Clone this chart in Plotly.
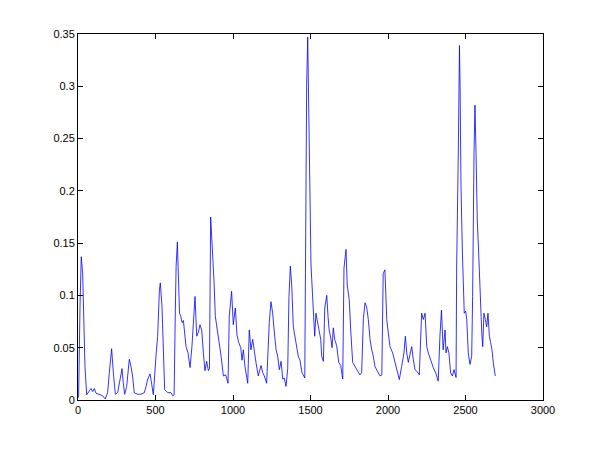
import plotly.graph_objects as go

sample_index = [0, 4, 13, 21, 30, 37, 45, 56, 69, 84, 95, 105, 116, 137, 159, 176, 191, 202, 217, 228,
                241, 256, 267, 275, 284, 292, 301, 314, 322, 331, 342, 352, 363, 385, 405, 428, 439, 450,
                465, 473, 486, 503, 514, 525, 531, 542, 550, 559, 579, 600, 611, 620, 628, 633, 641, 650,
                655, 663, 671, 680, 690, 697, 710, 723, 735, 743, 755, 766, 777, 787, 798, 809, 819, 830,
                841, 848, 856, 863, 869, 877, 886, 899, 911, 923, 938, 953, 968, 976, 991, 1002, 1015,
                1026, 1037, 1050, 1058, 1067, 1077, 1095, 1105, 1116, 1127, 1137, 1148, 1163, 1181, 1192,
                1202, 1217, 1234, 1245, 1256, 1269, 1278, 1288, 1299, 1310, 1321, 1331, 1342, 1353, 1361,
                1370, 1379, 1389, 1395, 1402, 1411, 1421, 1432, 1445, 1453, 1463, 1469, 1475, 1482, 1488,
                1497, 1503, 1508, 1518, 1527, 1535, 1544, 1557, 1566, 1572, 1583, 1592, 1605, 1613, 1621,
                1630, 1639, 1647, 1656, 1669, 1682, 1695, 1708, 1716, 1729, 1737, 1750, 1759, 1772, 1787,
                1797, 1808, 1819, 1830, 1841, 1852, 1862, 1873, 1884, 1895, 1905, 1916, 1927, 1937, 1948,
                1960, 1969, 1980, 1992, 2002, 2013, 2030, 2045, 2060, 2073, 2088, 2103, 2112, 2121, 2131,
                2142, 2153, 2163, 2174, 2189, 2202, 2217, 2228, 2239, 2250, 2260, 2271, 2292, 2310, 2324,
                2335, 2345, 2356, 2368, 2374, 2383, 2393, 2404, 2415, 2426, 2439, 2443, 2454, 2461, 2465,
                2471, 2480, 2486, 2492, 2501, 2508, 2518, 2529, 2540, 2546, 2555, 2561, 2568, 2576, 2585,
                2594, 2605, 2611, 2619, 2628, 2637, 2645, 2654, 2662, 2671, 2679, 2692]

signal = [0.002, 0.004, 0.09, 0.137, 0.121, 0.075, 0.032, 0.005, 0.008, 0.011, 0.008, 0.011, 0.0065,
          0.0055, 0.004, 0.001, 0.007, 0.026, 0.049, 0.026, 0.0055, 0.007, 0.0165, 0.023, 0.030, 0.0165,
          0.0055, 0.013, 0.026, 0.039, 0.032, 0.023, 0.007, 0.0055, 0.0055, 0.007, 0.013, 0.020, 0.025,
          0.018, 0.005, 0.042, 0.061, 0.105, 0.112, 0.089, 0.048, 0.010, 0.007, 0.007, 0.004, 0.005,
          0.086, 0.128, 0.151, 0.099, 0.083, 0.080, 0.074, 0.076, 0.057, 0.051, 0.045, 0.031, 0.051,
          0.075, 0.099, 0.061, 0.065, 0.072, 0.067, 0.045, 0.028, 0.037, 0.028, 0.030, 0.175, 0.155,
          0.130, 0.115, 0.080, 0.067, 0.055, 0.042, 0.023, 0.024, 0.016, 0.080, 0.104, 0.072, 0.088,
          0.062, 0.055, 0.050, 0.038, 0.048, 0.032, 0.016, 0.067, 0.048, 0.058, 0.045, 0.036, 0.023,
          0.033, 0.026, 0.023, 0.016, 0.074, 0.094, 0.083, 0.061, 0.048, 0.042, 0.029, 0.037, 0.020,
          0.021, 0.013, 0.030, 0.099, 0.128, 0.109, 0.070, 0.064, 0.058, 0.052, 0.042, 0.038, 0.026,
          0.024, 0.021, 0.156, 0.300, 0.347, 0.269, 0.160, 0.130, 0.115, 0.082, 0.061, 0.083, 0.076,
          0.066, 0.058, 0.042, 0.037, 0.088, 0.100, 0.080, 0.066, 0.060, 0.050, 0.069, 0.058, 0.052,
          0.036, 0.033, 0.020, 0.126, 0.144, 0.110, 0.096, 0.068, 0.036, 0.032, 0.029, 0.026, 0.024,
          0.026, 0.078, 0.093, 0.089, 0.077, 0.058, 0.048, 0.042, 0.032, 0.029, 0.026, 0.023, 0.024,
          0.121, 0.1245, 0.077, 0.064, 0.051, 0.045, 0.036, 0.026, 0.0195, 0.032, 0.045, 0.061, 0.045,
          0.036, 0.045, 0.051, 0.039, 0.029, 0.027, 0.024, 0.083, 0.077, 0.083, 0.051, 0.045, 0.040,
          0.031, 0.025, 0.018, 0.061, 0.086, 0.048, 0.067, 0.045, 0.051, 0.045, 0.026, 0.023, 0.029,
          0.0215, 0.128, 0.242, 0.339, 0.299, 0.204, 0.1405, 0.093, 0.083, 0.085, 0.077, 0.045, 0.034,
          0.042, 0.099, 0.236, 0.282, 0.236, 0.172, 0.1405, 0.099, 0.064, 0.051, 0.083, 0.077, 0.070,
          0.083, 0.061, 0.055, 0.048, 0.036, 0.023]

x_ticks = [0, 500, 1000, 1500, 2000, 2500, 3000]
x_tick_labels = ["0", "500", "1000", "1500", "2000", "2500", "3000"]
y_ticks = [0, 0.05, 0.1, 0.15, 0.2, 0.25, 0.3, 0.35]
y_tick_labels = ["0", "0.05", "0.1", "0.15", "0.2", "0.25", "0.3", "0.35"]

fig = go.Figure(go.Scatter(x=sample_index, y=signal, mode="lines",
                           line=dict(color="#0000ff", width=0.8), showlegend=False))

axis_common = dict(showline=True, linecolor="#000000", linewidth=1, mirror="ticks",
                   ticks="inside", ticklen=5, tickcolor="#000000", showgrid=False,
                   zeroline=False, tickfont=dict(family="Liberation Sans, Arial", size=11, color="#000000"))

fig.update_xaxes(range=[0, 3000], tickvals=x_ticks, ticktext=x_tick_labels, **axis_common)
fig.update_yaxes(range=[0, 0.35], tickvals=y_ticks, ticktext=y_tick_labels, **axis_common)

# page body adds an 8px offset, so margins are shifted to place the axes box at the reference position
fig.update_layout(width=600, height=450, margin=dict(l=70, r=65, t=26, b=58),
                  plot_bgcolor="white", paper_bgcolor="white")

fig.write_html("out.html")
